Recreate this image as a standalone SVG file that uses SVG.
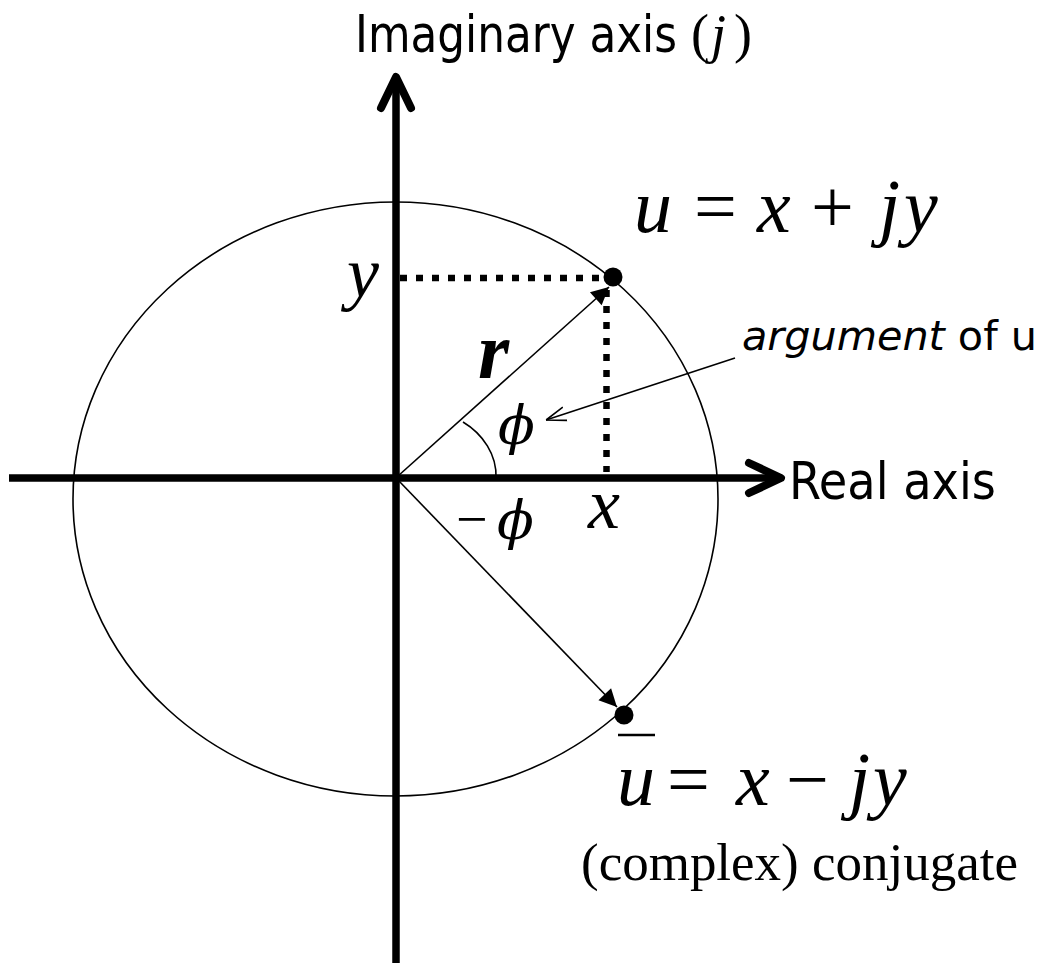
<svg xmlns="http://www.w3.org/2000/svg" width="1044" height="963" viewBox="0 0 1044 963">
<style>
.sans{font-family:'DejaVu Sans Condensed','DejaVu Sans',sans-serif;fill:#000}
.serif{font-family:'Liberation Serif','Times New Roman',serif;fill:#000}
.phi{font-family:'DejaVu Serif',serif;font-style:italic;fill:#000}
.it{font-style:italic}
.axis{stroke:#000;stroke-width:7.5;fill:none}
.head{stroke:#000;stroke-width:8;fill:none;stroke-linecap:round;stroke-linejoin:round}
.thin{stroke:#000;stroke-width:1.6;fill:none}
.dot{stroke:#000;stroke-width:6.5;fill:none;stroke-dasharray:7 9}
</style>
<defs>
<marker id="tri" viewBox="0 0 10 10" refX="10" refY="5" markerWidth="11" markerHeight="11" markerUnits="userSpaceOnUse" orient="auto" overflow="visible">
<path d="M0,0 L10,5 L0,10 z" fill="#000" transform="scale(1.6)translate(-3.8,-1.9)"/>
</marker>
<marker id="vee" viewBox="0 0 20 20" refX="20" refY="10" markerWidth="20" markerHeight="20" markerUnits="userSpaceOnUse" orient="auto">
<path d="M0,3 L20,10 L0,17" fill="none" stroke="#000" stroke-width="1.6"/>
</marker>
</defs>
<rect width="1044" height="963" fill="#fff"/>

<g id="circle">
<ellipse cx="395.5" cy="499" rx="322.5" ry="297" class="thin"/>
</g>

<g id="axes">
<line x1="9" y1="478" x2="779" y2="478" class="axis"/>
<polyline points="749,463 781,478 749,493" class="head"/>
<line x1="396" y1="963" x2="396" y2="80" class="axis"/>
<polyline points="381,108 396,77 411,108" class="head"/>
</g>

<g id="connectors">
<line x1="400" y1="278" x2="600" y2="278" class="dot"/>
<line x1="606.5" y1="290" x2="606.5" y2="472" class="dot"/>
<line x1="398" y1="476" x2="609" y2="287" class="thin" marker-end="url(#tri)"/>
<line x1="398" y1="480" x2="617" y2="707" class="thin" marker-end="url(#tri)"/>
<line x1="735" y1="358" x2="546" y2="420" class="thin" marker-end="url(#vee)"/>
<path d="M463,422 C483,434 497,455 496,478" class="thin"/>
</g>

<g id="point-u">
<circle cx="613" cy="277" r="9.5" fill="#000"/>
</g>
<g id="point-ubar">
<circle cx="624" cy="715" r="9.5" fill="#000"/>
</g>

<g id="labels">
<text class="sans" x="355" y="52" font-size="51" textLength="322" lengthAdjust="spacingAndGlyphs">Imaginary axis</text>
<text class="serif" y="52" font-size="54"><tspan x="691">(</tspan><tspan x="711" class="it">j</tspan><tspan x="734">)</tspan></text>
<text class="sans" x="789" y="499" font-size="52" textLength="207" lengthAdjust="spacingAndGlyphs">Real axis</text>
<text class="sans" x="742" y="350" font-size="40" textLength="295" lengthAdjust="spacingAndGlyphs"><tspan class="it">argument</tspan> of u</text>

<text class="serif it" x="347" y="297" font-size="72">y</text>
<text class="serif it" x="478" y="378" font-size="80" font-weight="bold">r</text>
<text class="phi" x="498" y="444" font-size="54">ϕ</text>
<text class="serif" x="456" y="538" font-size="56">−</text>
<text class="phi" x="497" y="539" font-size="54">ϕ</text>
<text class="serif it" x="588" y="528" font-size="72">x</text>

<text class="serif" y="232" font-size="76"><tspan x="634" class="it">u</tspan><tspan x="694">=</tspan><tspan x="757" class="it">x</tspan><tspan x="811">+</tspan><tspan x="879" class="it">j</tspan><tspan x="904" class="it">y</tspan></text>

<line x1="618" y1="735" x2="655" y2="735" stroke="#000" stroke-width="2.5"/>
<text class="serif" y="805" font-size="76"><tspan x="617" class="it">u</tspan><tspan x="667">=</tspan><tspan x="736" class="it">x</tspan><tspan x="786">−</tspan><tspan x="849" class="it">j</tspan><tspan x="873" class="it">y</tspan></text>
<text class="serif" x="581" y="880" font-size="53" textLength="437" lengthAdjust="spacingAndGlyphs">(complex) conjugate</text>
</g>
</svg>
